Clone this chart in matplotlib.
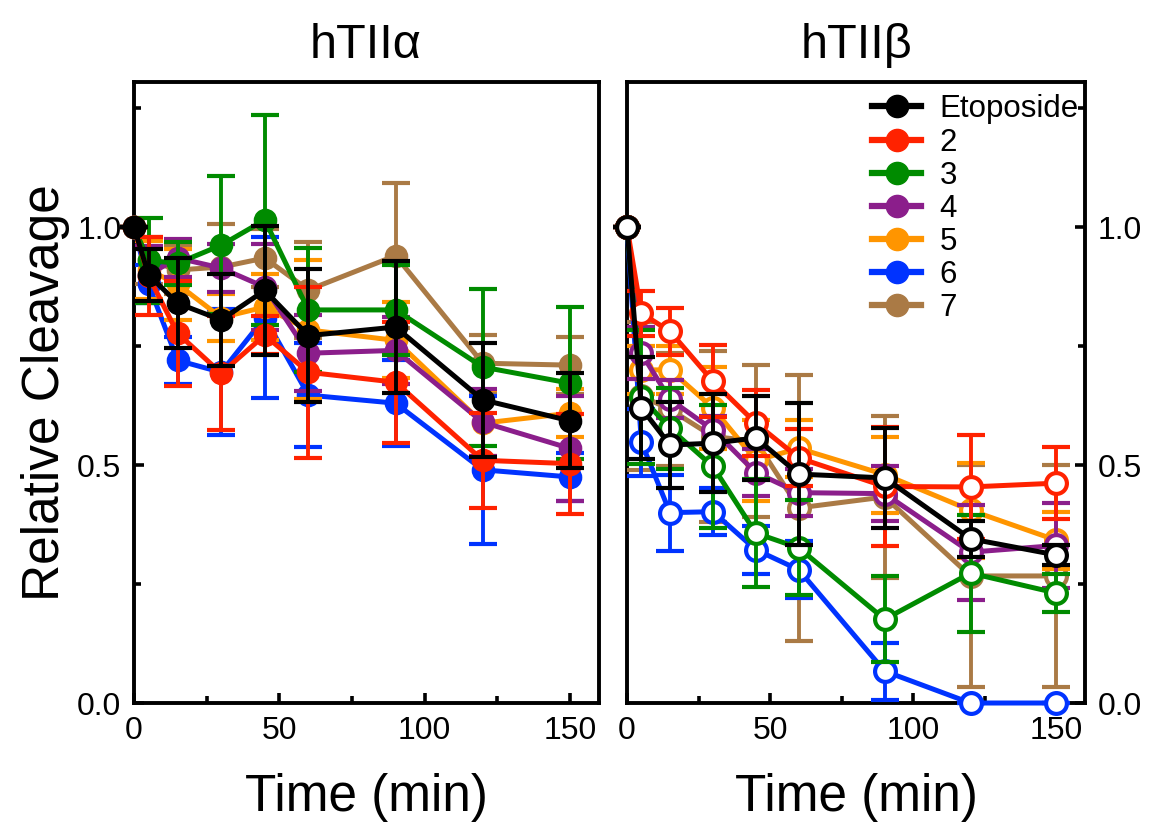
import matplotlib
matplotlib.use("Agg")
import matplotlib.pyplot as plt
from matplotlib.lines import Line2D
from matplotlib.ticker import MultipleLocator, FormatStrFormatter

plt.rcParams["font.family"] = ["Liberation Sans", "DejaVu Sans"]

# time points (min)
times = [0, 5, 15, 30, 45, 60, 90, 120, 150]
labels = ["Etoposide", "2", "3", "4", "5", "6", "7"]
colors = ["#000000", "#FF2200", "#008B00", "#8B1E8B", "#FF9500", "#0033FF", "#AA7A45"]

# hTIIa (filled markers)
etop_a = [1.0, 0.90, 0.84, 0.805, 0.867, 0.772, 0.79, 0.637, 0.593]
etop_a_err = [0, 0.055, 0.095, 0.097, 0.135, 0.14, 0.138, 0.12, 0.10]
c2_a = [1.0, 0.897, 0.777, 0.693, 0.773, 0.695, 0.674, 0.51, 0.503]
c2_a_err = [0, 0.082, 0.11, 0.12, 0.04, 0.18, 0.127, 0.10, 0.105]
c3_a = [1.0, 0.93, 0.924, 0.962, 1.015, 0.826, 0.826, 0.706, 0.672]
c3_a_err = [0, 0.09, 0.045, 0.145, 0.22, 0.13, 0.095, 0.165, 0.16]
c4_a = [1.0, 0.90, 0.935, 0.914, 0.874, 0.735, 0.741, 0.59, 0.535]
c4_a_err = [0, 0.06, 0.04, 0.05, 0.09, 0.08, 0.07, 0.07, 0.11]
c5_a = [1.0, 0.91, 0.88, 0.81, 0.832, 0.784, 0.762, 0.588, 0.609]
c5_a_err = [0, 0.06, 0.075, 0.05, 0.07, 0.146, 0.08, 0.07, 0.05]
c6_a = [1.0, 0.88, 0.72, 0.695, 0.81, 0.647, 0.63, 0.49, 0.475]
c6_a_err = [0, 0.04, 0.05, 0.132, 0.17, 0.11, 0.09, 0.155, 0.05]
c7_a = [1.0, 0.93, 0.91, 0.916, 0.935, 0.868, 0.94, 0.714, 0.71]
c7_a_err = [0, 0.05, 0.05, 0.09, 0.06, 0.10, 0.152, 0.06, 0.06]

# hTIIb (open markers)
etop_b = [1.0, 0.62, 0.542, 0.546, 0.557, 0.481, 0.473, 0.345, 0.311]
etop_b_err = [0, 0.108, 0.09, 0.103, 0.088, 0.15, 0.105, 0.038, 0.02]
c2_b = [1.0, 0.819, 0.781, 0.676, 0.588, 0.515, 0.455, 0.454, 0.462]
c2_b_err = [0, 0.047, 0.05, 0.076, 0.07, 0.06, 0.125, 0.11, 0.076]
c3_b = [1.0, 0.643, 0.577, 0.497, 0.357, 0.326, 0.176, 0.273, 0.231]
c3_b_err = [0, 0.14, 0.085, 0.13, 0.113, 0.10, 0.09, 0.123, 0.04]
c4_b = [1.0, 0.735, 0.638, 0.574, 0.484, 0.442, 0.44, 0.317, 0.331]
c4_b_err = [0, 0.055, 0.04, 0.03, 0.05, 0.05, 0.058, 0.10, 0.09]
c5_b = [1.0, 0.70, 0.70, 0.62, 0.51, 0.535, 0.48, 0.405, 0.342]
c5_b_err = [0, 0.05, 0.05, 0.086, 0.085, 0.06, 0.08, 0.10, 0.06]
c6_b = [1.0, 0.548, 0.40, 0.402, 0.322, 0.28, 0.067, 0.0, 0.0]
c6_b_err = [0, 0.07, 0.08, 0.05, 0.05, 0.06, 0.06, 0, 0]
c7_b = [1.0, 0.645, 0.617, 0.56, 0.55, 0.41, 0.433, 0.267, 0.267]
c7_b_err = [0, 0.155, 0.118, 0.18, 0.16, 0.28, 0.17, 0.233, 0.233]

alpha_data = [(etop_a, etop_a_err), (c2_a, c2_a_err), (c3_a, c3_a_err), (c4_a, c4_a_err),
              (c5_a, c5_a_err), (c6_a, c6_a_err), (c7_a, c7_a_err)]
beta_data = [(etop_b, etop_b_err), (c2_b, c2_b_err), (c3_b, c3_b_err), (c4_b, c4_b_err),
             (c5_b, c5_b_err), (c6_b, c6_b_err), (c7_b, c7_b_err)]

fig = plt.figure(figsize=(11.55, 8.23), dpi=100)
ax1 = fig.add_axes([0.116, 0.1458, 0.4026, 0.7546])
ax2 = fig.add_axes([0.5429, 0.1458, 0.3965, 0.7546])


def draw(ax, data, open_marker):
    # draw the compounds last-to-first so Etoposide ends on top
    for i in range(len(data) - 1, -1, -1):
        y, err = data[i]
        c = colors[i]
        z = 10 + (len(data) - i) * 2
        if open_marker:
            ms, mfc = 15, "white"
        else:
            ms, mfc = 14, c
        ax.errorbar(times, y, yerr=err, fmt="-o", color=c, lw=3.6, ms=ms,
                    mfc=mfc, mec=c, mew=3.0, elinewidth=2.8, capsize=10,
                    capthick=2.8, zorder=z, clip_on=False)


draw(ax1, alpha_data, False)
draw(ax2, beta_data, True)

for ax in (ax1, ax2):
    ax.set_xlim(0, 160)
    ax.set_ylim(0, 1.305)
    ax.xaxis.set_major_locator(MultipleLocator(50))
    ax.xaxis.set_minor_locator(MultipleLocator(25))
    ax.yaxis.set_major_locator(MultipleLocator(0.5))
    ax.yaxis.set_minor_locator(MultipleLocator(0.25))
    ax.yaxis.set_major_formatter(FormatStrFormatter("%.1f"))
    for s in ax.spines.values():
        s.set_linewidth(2.8)
    ax.tick_params(which="both", direction="in", width=2.6, labelsize=23, pad=9)
    ax.tick_params(which="major", length=7.5)
    ax.tick_params(which="minor", length=5)
    ax.set_xlabel("Time (min)", fontsize=37, labelpad=20)

ax2.yaxis.tick_right()
ax2.yaxis.set_label_position("right")
ax2.tick_params(axis="y", which="both", left=False, right=True)

ax1.set_ylabel("Relative Cleavage", fontsize=37, labelpad=5)

fig.text(366 / 1155, 1 - 45 / 823, "hTII\u03b1", fontsize=35, ha="center", va="center")
fig.text(856 / 1155, 1 - 45 / 823, "hTII\u03b2", fontsize=35, ha="center", va="center")

handles = [Line2D([], [], color=c, lw=4.5, marker="o", ms=16, mfc=c, mec=c)
           for c in colors]
ax2.legend(handles, labels, loc="upper right", bbox_to_anchor=(1.0, 0.99),
           frameon=False, fontsize=22.5, handlelength=1.55, handletextpad=0.6,
           labelspacing=0.1, borderpad=0.15, borderaxespad=0.05)

fig.savefig("out.png", dpi=100)
